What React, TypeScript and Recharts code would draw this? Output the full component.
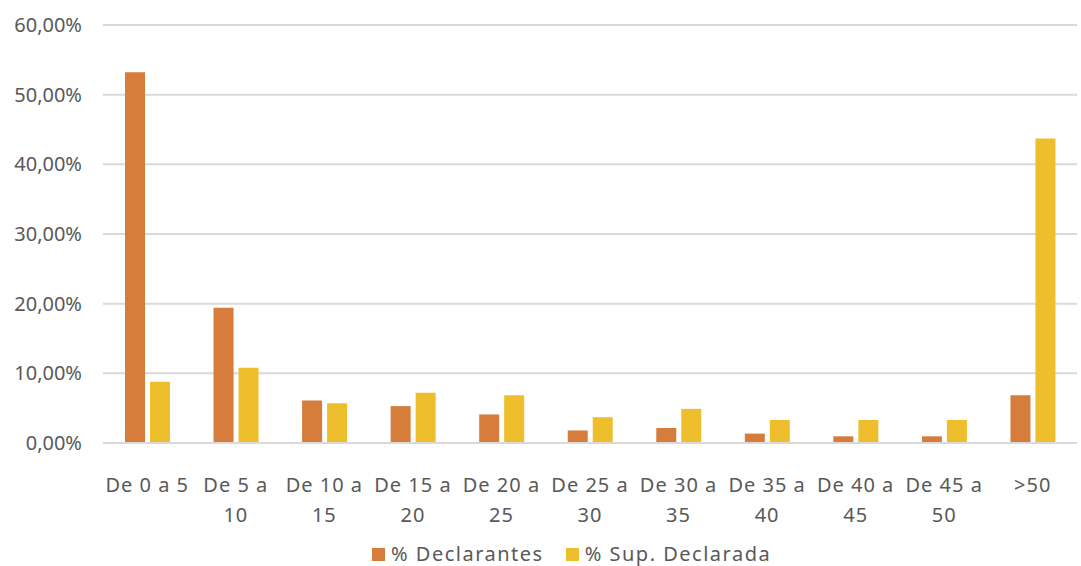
import React from "react";
import { BarChart, Bar, XAxis, YAxis, CartesianGrid } from "recharts";

const categories = [
  "De 0 a 5",
  "De 5 a 10",
  "De 10 a 15",
  "De 15 a 20",
  "De 20 a 25",
  "De 25 a 30",
  "De 30 a 35",
  "De 35 a 40",
  "De 40 a 45",
  "De 45 a 50",
  ">50",
];

const declarantes = [0.532, 0.194, 0.061, 0.053, 0.041, 0.018, 0.0215, 0.0135, 0.0096, 0.0096, 0.0685];
const supDeclarada = [0.088, 0.108, 0.057, 0.072, 0.0685, 0.037, 0.049, 0.033, 0.033, 0.033, 0.437];

const yTicks = [0, 0.1, 0.2, 0.3, 0.4, 0.5, 0.6];

const ORANGE = "#D67D3B";
const YELLOW = "#EFBE2D";
const TEXT = "#595959";
const FONT = "'Noto Sans', sans-serif";

const data = categories.map((name, i) => ({
  name,
  declarantes: declarantes[i],
  sup: supDeclarada[i],
}));

const fmtPct = (v: number) => (v * 100).toFixed(2).replace(".", ",") + "%";

function splitLabel(label: string): string[] {
  if (label.length <= 8) return [label];
  const idx = label.lastIndexOf(" ");
  return [label.slice(0, idx), label.slice(idx + 1)];
}

function CategoryTick(props: any) {
  const { x, y, payload } = props;
  const lines = splitLabel(payload.value);
  return (
    <g transform={`translate(${x},${y})`}>
      {lines.map((line, i) => (
        <text
          key={i}
          x={0}
          y={33 + i * 30}
          textAnchor="middle"
          dominantBaseline="central"
          fill={TEXT}
          fontSize={20}
          fontFamily={FONT}
          letterSpacing={1}
        >
          {line}
        </text>
      ))}
    </g>
  );
}

const legendItems = [
  { label: "% Declarantes", color: ORANGE },
  { label: "% Sup. Declarada", color: YELLOW },
];

export default function App() {
  return (
    <div style={{ position: "absolute", left: 0, top: 0, width: 1081, height: 566, background: "#fff", overflow: "hidden" }}>
      <BarChart
        width={1081}
        height={566}
        data={data}
        margin={{ top: 25, right: 4, left: 0, bottom: 0 }}
        barSize={20}
        barGap={5}
      >
        <CartesianGrid vertical={false} stroke="#D9D9D9" strokeWidth={2} />
        <XAxis
          dataKey="name"
          interval={0}
          tickLine={false}
          axisLine={{ stroke: "#D9D9D9", strokeWidth: 2 }}
          tick={<CategoryTick />}
          height={123}
        />
        <YAxis
          width={103}
          domain={[0, 0.6]}
          ticks={yTicks}
          tickFormatter={fmtPct}
          tickLine={false}
          axisLine={false}
          tickSize={0}
          tickMargin={21}
          tick={{ fill: TEXT, fontSize: 20, fontFamily: FONT }}
        />
        <Bar dataKey="declarantes" name="% Declarantes" fill={ORANGE} isAnimationActive={false} />
        <Bar dataKey="sup" name="% Sup. Declarada" fill={YELLOW} isAnimationActive={false} />
      </BarChart>
      <div
        style={{
          position: "absolute",
          left: 372,
          top: 543,
          display: "flex",
          gap: 22,
          fontFamily: FONT,
          fontSize: 20,
          lineHeight: "22px",
          color: TEXT,
          letterSpacing: 1.5,
        }}
      >
        {legendItems.map((it) => (
          <div key={it.label} style={{ display: "flex", alignItems: "center" }}>
            <span style={{ width: 13, height: 13, background: it.color, display: "inline-block", marginRight: 6 }} />
            <span>{it.label}</span>
          </div>
        ))}
      </div>
    </div>
  );
}
